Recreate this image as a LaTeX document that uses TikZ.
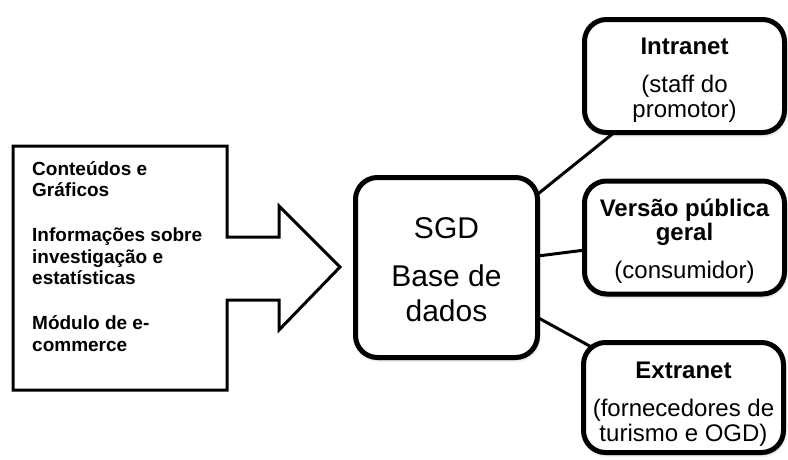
\documentclass[tikz,border=0pt]{standalone}
\usepackage{fontspec}
\setmainfont{Liberation Sans}
\usetikzlibrary{shadows.blur,backgrounds}
% invisible strut that sets the height of a first line
\newcommand\topstrut[1]{\rule{0pt}{#1}}
\begin{document}
\begin{tikzpicture}[x=1pt,y=-1pt,
  card/.style={draw, line width=5pt, rounded corners=22pt, fill=white,
    align=center, inner sep=0pt,
    blur shadow={shadow xshift=1pt, shadow yshift=-2pt,
      shadow blur radius=3pt, shadow opacity=35}},
  hub/.style={card, minimum width=182pt, minimum height=180pt,
    font=\fontsize{30}{35.5}\selectfont},
  leaf/.style={card, minimum width=200pt, minimum height=113pt,
    font=\fontsize{24}{25}\selectfont},
  link/.style={line width=3pt},
  feed/.style={draw, line width=3pt, line join=miter},
  list/.style={align=left, inner sep=0pt, anchor=north west,
    font=\bfseries\fontsize{19}{21.5}\selectfont}
]
\useasboundingbox (0,0) rectangle (788,459);

% source panel with its arrow
\draw[feed] (13,146) -- (227,146) -- (227,237) -- (279,237) -- (279,206)
  -- (340,267) -- (279,330) -- (279,300) -- (227,300) -- (227,390)
  -- (13,390) -- cycle;
\node[list] (inputs) at (32,161) {Conteúdos e\\ Gráficos\\[23.5pt]
  Informações sobre\\ investigação e\\ estatísticas\\[23.5pt]
  Módulo de e-\\ commerce};

% database hub
\node[hub] (sgd) at (446.5,267.5) {\topstrut{26pt}SGD\\[12pt] Base de\\ dados};

% access channels
\node[leaf] (intra) at (684.5,76)
  {\topstrut{25pt}{\bfseries Intranet}\\[13pt] (staff do\\ promotor)};
\node[leaf, font=\fontsize{24}{22}\selectfont] (pub) at (684.5,237.5)
  {\topstrut{25.6pt}{\bfseries Versão pública}\\ {\bfseries geral}\\[15pt] (consumidor)};
\node[leaf, minimum height=110pt] (extra) at (683.5,397.5)
  {\topstrut{29pt}{\bfseries Extranet}\\[13pt] (fornecedores de\\ turismo e OGD)};

% links between hub and channels
\begin{scope}[on background layer]
  \draw[link] (sgd.center) -- (intra.center);
  \draw[link] (sgd.center) -- (pub.center);
  \draw[link] (sgd.center) -- (extra.center);
\end{scope}
\end{tikzpicture}
\end{document}
